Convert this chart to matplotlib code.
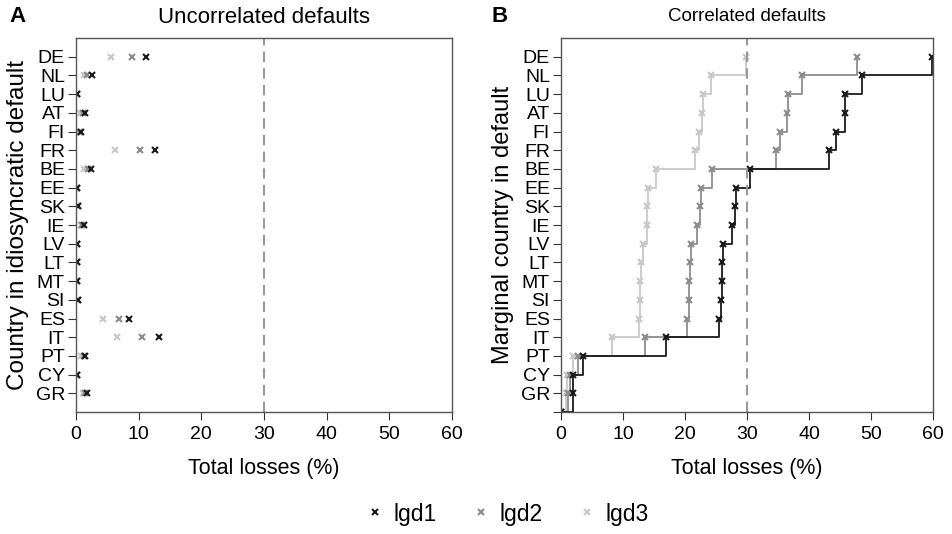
import numpy as np
import matplotlib.pyplot as plt
from matplotlib.lines import Line2D

countries = ['GR', 'CY', 'PT', 'IT', 'ES', 'SI', 'MT', 'LT', 'LV', 'IE',
             'SK', 'EE', 'BE', 'FR', 'FI', 'AT', 'LU', 'NL', 'DE']

# panel A: idiosyncratic default losses (%)
unc_lgd1 = [1.8, 0.1, 1.5, 13.2, 8.5, 0.3, 0.1, 0.2, 0.2, 1.25,
            0.35, 0.1, 2.4, 12.6, 0.8, 1.4, 0.2, 2.6, 11.2]
unc_lgd2 = [1.5, 0.08, 1.2, 10.6, 6.8, 0.25, 0.08, 0.15, 0.15, 1.0,
            0.3, 0.08, 1.9, 10.2, 0.6, 1.1, 0.15, 1.7, 9.0]
unc_lgd3 = [1.1, 0.05, 0.8, 6.5, 4.3, 0.2, 0.05, 0.1, 0.1, 0.8,
            0.2, 0.05, 1.35, 6.3, 0.5, 0.7, 0.1, 1.25, 5.6]

# panel B: cumulative losses for marginal country in default (%)
cor_lgd1 = [1.9, 2.0, 3.5, 16.9, 25.5, 25.8, 25.9, 26.0, 26.2, 27.5,
            28.1, 28.2, 30.5, 43.3, 44.3, 45.8, 45.8, 48.5, 59.8]
cor_lgd2 = [1.2, 1.45, 2.8, 13.5, 20.3, 20.6, 20.7, 20.8, 21.0, 22.0,
            22.4, 22.5, 24.4, 34.6, 35.4, 36.5, 36.6, 38.8, 47.8]
cor_lgd3 = [0.8, 0.9, 1.9, 8.3, 12.6, 12.8, 12.8, 12.9, 13.2, 13.8,
            13.9, 14.0, 15.3, 21.6, 22.2, 22.8, 22.9, 24.2, 29.8]

names = ['lgd1', 'lgd2', 'lgd3']
colors = ['#1a1a1a', '#8c8c8c', '#c8c8c8']

plt.rcParams['font.family'] = 'Liberation Sans'

fig = plt.figure(figsize=(9.52, 5.34), dpi=100)
axA = fig.add_axes([76 / 952, 1 - 412 / 534, 376 / 952, 374 / 534])
axB = fig.add_axes([561 / 952, 1 - 412 / 534, 372 / 952, 374 / 534])

ypos = np.arange(len(countries))

for vals, c in zip([unc_lgd3, unc_lgd2, unc_lgd1], colors[::-1]):
    axA.plot(vals, ypos, linestyle='none', marker='x', ms=5, mew=1.5, color=c)

for vals, c in zip([cor_lgd3, cor_lgd2, cor_lgd1], colors[::-1]):
    xs = [0] + list(vals)
    ys = [-1] + list(ypos)
    axB.plot(xs, ys, drawstyle='steps-post', color=c, lw=1.3)
    axB.plot(xs, ys, linestyle='none', marker='x', ms=5, mew=1.5, color=c)

for ax in (axA, axB):
    ax.axvline(30, color='#999999', ls=(0, (5, 3)), lw=1.5)
    ax.set_xlim(0, 60)
    ax.set_ylim(-1, 19)
    ax.set_xticks(range(0, 61, 10))
    ax.set_xlabel('Total losses (%)', fontsize=15.5, labelpad=11)
    ax.tick_params(axis='x', labelsize=14, length=6, color='#333333', pad=4)
    ax.tick_params(axis='y', labelsize=14, length=6, color='#333333', pad=2)
    for s in ax.spines.values():
        s.set_color('#555555')
        s.set_linewidth(1.0)

axA.set_yticks(ypos)
axA.set_yticklabels(countries)
axB.set_yticks([-1] + list(ypos))
axB.set_yticklabels([''] + countries)

axA.set_ylabel('Country in idiosyncratic default', fontsize=17.5, labelpad=5)
axB.set_ylabel('Marginal country in default', fontsize=17, labelpad=5)
axA.set_title('Uncorrelated defaults', fontsize=16, pad=11)
axB.set_title('Correlated defaults', fontsize=13.5, pad=12)

fig.text(18 / 952, 1 - 16 / 534, 'A', fontsize=16, fontweight='bold', va='center', ha='center')
fig.text(500 / 952, 1 - 16 / 534, 'B', fontsize=16, fontweight='bold', va='center', ha='center')

handles = [Line2D([], [], linestyle='none', marker='x', ms=5, mew=1.5, color=c) for c in colors]
fig.legend(handles, names, loc='center', bbox_to_anchor=(505 / 952, 1 - 514 / 534),
           ncol=3, frameon=False, fontsize=16.5, handletextpad=0.2, columnspacing=1.35,
           handlelength=1.2)

fig.savefig('out.png', dpi=100)
